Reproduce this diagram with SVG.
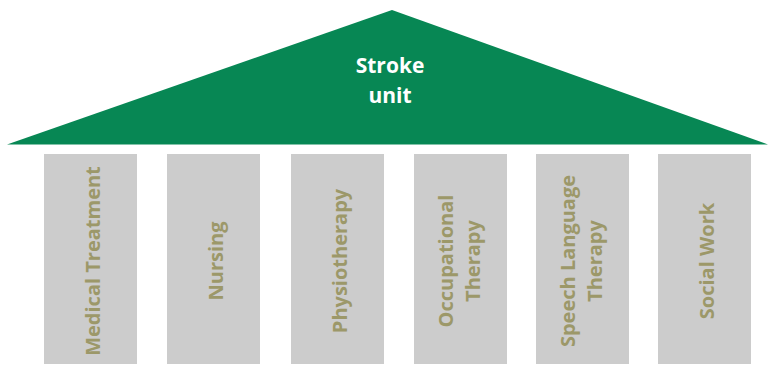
<svg xmlns="http://www.w3.org/2000/svg" width="768" height="365" viewBox="0 0 768 365">
<style>
.pillar{fill:#cccccc}
.pt{font-family:"Open Sans","Liberation Sans",sans-serif;font-weight:bold;font-size:20px;fill:#9c9869;text-anchor:middle}
.rt{font-family:"Open Sans","Liberation Sans",sans-serif;font-weight:bold;font-size:21px;fill:#ffffff;text-anchor:middle}
</style>
<rect width="768" height="365" fill="#ffffff"/>
<g id="roof">
<polygon points="7,144.5 392,10 768,144.5" fill="#078754"/>
<text class="rt" x="390" y="73">Stroke</text>
<text class="rt" x="390" y="103">unit</text>
</g>
<g id="medical">
<rect class="pillar" x="44" y="154" width="93" height="210"/>
<text class="pt" transform="translate(90.5,261) rotate(-90)" y="9.5">Medical Treatment</text>
</g>
<g id="nursing">
<rect class="pillar" x="167" y="154" width="93" height="210"/>
<text class="pt" transform="translate(213.5,261) rotate(-90)" y="9.5">Nursing</text>
</g>
<g id="physio">
<rect class="pillar" x="291" y="154" width="93" height="210"/>
<text class="pt" transform="translate(337.5,261) rotate(-90)" y="9.5">Physiotherapy</text>
</g>
<g id="occupational">
<rect class="pillar" x="414" y="154" width="93" height="210"/>
<text class="pt" transform="translate(460.5,261) rotate(-90)"><tspan x="0" y="-8">Occupational</tspan><tspan x="0" y="19.5">Therapy</tspan></text>
</g>
<g id="speech">
<rect class="pillar" x="536" y="154" width="93" height="210"/>
<text class="pt" transform="translate(582.5,261) rotate(-90)"><tspan x="0" y="-7.5">Speech Language</tspan><tspan x="0" y="19">Therapy</tspan></text>
</g>
<g id="social">
<rect class="pillar" x="658" y="154" width="93" height="210"/>
<text class="pt" transform="translate(704.5,261) rotate(-90)" y="9.5">Social Work</text>
</g>
<g id="connectors"></g>
</svg>
